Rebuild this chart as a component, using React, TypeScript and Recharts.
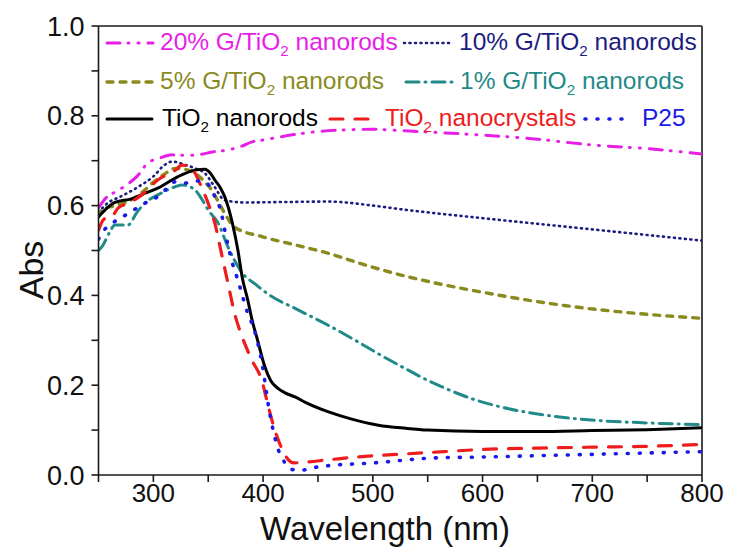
import React from 'react';
import { LineChart, Line, XAxis, YAxis, ReferenceLine } from 'recharts';

// [wavelength nm, absorbance]
const g20 = [[250,0.595],[258,0.62],[265,0.63],[275,0.645],[285,0.665],[295,0.695],[305,0.705],[317,0.713],[330,0.712],[340,0.713],[355,0.72],[368,0.724],[380,0.732],[390,0.742],[400,0.746],[425,0.757],[450,0.765],[480,0.769],[500,0.77],[525,0.767],[550,0.764],[600,0.757],[650,0.748],[676,0.741],[700,0.735],[750,0.727],[800,0.715]];
const g10 = [[250,0.585],[258,0.605],[270,0.62],[285,0.64],[300,0.665],[310,0.69],[317,0.698],[330,0.69],[338,0.683],[347,0.672],[355,0.645],[365,0.612],[383,0.607],[420,0.608],[459,0.609],[500,0.6],[525,0.592],[600,0.572],[676,0.553],[740,0.537],[800,0.522]];
const g5 = [[250,0.575],[253,0.59],[265,0.6],[277,0.609],[290,0.63],[299,0.65],[310,0.67],[320,0.683],[330,0.68],[338,0.672],[346,0.655],[353,0.635],[360,0.605],[365,0.583],[374,0.552],[399,0.531],[430,0.512],[459,0.494],[490,0.47],[520,0.449],[560,0.426],[600,0.407],[640,0.39],[676,0.377],[740,0.36],[800,0.349]];
const g1 = [[250,0.5],[253,0.508],[260,0.54],[265,0.557],[277,0.557],[285,0.585],[292,0.605],[305,0.625],[320,0.642],[326,0.646],[332,0.643],[338,0.635],[344,0.615],[350,0.59],[359,0.561],[368,0.508],[381,0.45],[393,0.425],[405,0.402],[430,0.37],[459,0.334],[484,0.3],[505,0.27],[525,0.243],[555,0.205],[570,0.189],[590,0.17],[616,0.152],[661,0.132],[707,0.121],[750,0.116],[800,0.112]];
const rods = [[250,0.575],[258,0.595],[265,0.607],[280,0.615],[292,0.627],[305,0.64],[322,0.664],[338,0.679],[347,0.681],[352,0.672],[356,0.657],[361,0.64],[365,0.62],[372,0.561],[377,0.501],[381,0.44],[386,0.39],[390,0.345],[395,0.3],[401.6,0.241],[407,0.21],[413.6,0.193],[420,0.183],[429,0.174],[440,0.16],[459,0.141],[480,0.125],[505,0.111],[530,0.104],[550,0.1],[600,0.097],[650,0.097],[700,0.099],[750,0.101],[800,0.105]];
const crystals = [[250,0.545],[255,0.57],[262,0.575],[268,0.595],[277,0.605],[290,0.625],[304,0.657],[320,0.679],[326,0.69],[332,0.688],[338,0.672],[344,0.64],[350,0.605],[356,0.561],[362,0.494],[368,0.427],[374,0.36],[381,0.307],[390,0.255],[398.6,0.212],[405,0.15],[410.7,0.1],[416,0.065],[421.7,0.038],[428,0.027],[435,0.028],[460,0.034],[490,0.041],[530,0.047],[565,0.052],[600,0.057],[650,0.06],[700,0.062],[750,0.064],[800,0.068]];
const p25 = [[250,0.525],[254,0.542],[262,0.56],[272,0.575],[282,0.59],[292,0.605],[306,0.623],[320,0.653],[329,0.65],[338,0.655],[347,0.653],[356,0.62],[362,0.583],[365,0.546],[372,0.472],[377,0.434],[386,0.36],[392,0.323],[399,0.249],[406,0.138],[413,0.063],[420,0.027],[427,0.012],[435,0.011],[450,0.018],[465,0.022],[495,0.026],[556,0.038],[600,0.04],[650,0.043],[700,0.046],[750,0.049],[800,0.052]];

const xTicks = [250, 300, 350, 400, 450, 500, 550, 600, 650, 700, 750, 800];
const yTicks = [0, 0.1, 0.2, 0.3, 0.4, 0.5, 0.6, 0.7, 0.8, 0.9, 1.0];

const FONT = '"Liberation Sans", Arial, sans-serif';

const series = [
  { key: 'g20', data: g20, color: '#e61ee6', dash: '13 8 1 9 1 9', width: 3 },
  { key: 'g10', data: g10, color: '#1c1c80', dash: '1 4.5', width: 2.6 },
  { key: 'g5', data: g5, color: '#8a8a1e', dash: '6 7', width: 3.4 },
  { key: 'g1', data: g1, color: '#1f8a88', dash: '13 6 1 6', width: 3 },
  { key: 'rods', data: rods, color: '#000000', dash: undefined, width: 3 },
  { key: 'crystals', data: crystals, color: '#ee1c1c', dash: '13 12', width: 3.2 },
  { key: 'p25', data: p25, color: '#1a1ae6', dash: '1 11', width: 3.6 },
];

const legendRows = [
  { key: 'g20', row: 0, lineX: 105, lineW: 48, textX: 160, pre: '20% G/TiO', post: ' nanorods', sub: true },
  { key: 'g10', row: 0, lineX: 402, lineW: 48, textX: 459, pre: '10% G/TiO', post: ' nanorods', sub: true },
  { key: 'g5', row: 1, lineX: 105, lineW: 48, textX: 160, pre: '5% G/TiO', post: ' nanorods', sub: true },
  { key: 'g1', row: 1, lineX: 404, lineW: 48, textX: 460, pre: '1% G/TiO', post: ' nanorods', sub: true },
  { key: 'rods', row: 2, lineX: 105, lineW: 47, textX: 162, pre: 'TiO', post: ' nanorods', sub: true },
  { key: 'crystals', row: 2, lineX: 328, lineW: 48, textX: 385, pre: 'TiO', post: ' nanocrystals', sub: true },
  { key: 'p25', row: 2, lineX: 583, lineW: 40, textX: 642, pre: 'P25', post: '', sub: false },
];
const rowY = [42.5, 81.5, 119];

export default function App() {
  const dataFor = (arr: number[][]) => arr.map(([x, y]) => ({ x, y }));
  return (
    <div style={{ position: 'absolute', left: 0, top: 0, width: 731, height: 547, background: '#fff', fontFamily: FONT }}>
      <LineChart width={731} height={547} margin={{ top: 26, right: 29, bottom: 0, left: 0 }}>
        <XAxis
          type="number"
          dataKey="x"
          domain={[250, 800]}
          ticks={xTicks}
          interval={0}
          allowDataOverflow
          tickFormatter={(v: number) => (v % 100 === 0 ? String(v) : '')}
          tickSize={7}
          tickMargin={2}
          height={72}
          stroke="#1a1a1a"
          strokeWidth={1.6}
          tick={{ fill: '#111', fontSize: 26, fontFamily: FONT }}
          label={() => (
            <text x={385} y={540} textAnchor="middle" fill="#111" fontSize={33} fontFamily={FONT}>
              Wavelength (nm)
            </text>
          )}
        />
        <YAxis
          type="number"
          domain={[0, 1]}
          ticks={yTicks}
          interval={0}
          allowDataOverflow
          tickFormatter={(v: number) => (Math.round(v * 10) % 2 === 0 ? v.toFixed(1) : '')}
          tickSize={7}
          tickMargin={7}
          width={98.5}
          stroke="#1a1a1a"
          strokeWidth={1.6}
          tick={{ fill: '#111', fontSize: 27, fontFamily: FONT }}
          label={() => (
            <text x={43} y={270} transform="rotate(-90 43 270)" textAnchor="middle" fill="#111" fontSize={34} fontFamily={FONT}>
              Abs
            </text>
          )}
        />
        <ReferenceLine x={800} stroke="#1a1a1a" strokeWidth={1.6} />
        <ReferenceLine y={1} stroke="#1a1a1a" strokeWidth={1.6} />
        {series.map((s) => (
          <Line
            key={s.key}
            data={dataFor(s.data)}
            dataKey="y"
            type="monotone"
            stroke={s.color}
            strokeWidth={s.width}
            strokeDasharray={s.dash}
            strokeLinecap="round"
            dot={false}
            activeDot={false}
            isAnimationActive={false}
          />
        ))}
      </LineChart>

      {/* Legend */}
      {legendRows.map((l) => {
        const s = series.find((x) => x.key === l.key)!;
        const y = rowY[l.row];
        return (
          <React.Fragment key={l.key}>
            <svg style={{ position: 'absolute', left: l.lineX, top: y - 5 }} width={l.lineW + 4} height={10}>
              <line x1={2} y1={5} x2={l.lineW} y2={5} stroke={s.color} strokeWidth={s.width} strokeDasharray={s.dash} strokeLinecap="round" />
            </svg>
            <div
              style={{
                position: 'absolute',
                left: l.textX,
                top: y - 1,
                transform: 'translateY(-50%)',
                color: s.color,
                fontSize: 24.5,
                lineHeight: 1,
                whiteSpace: 'nowrap',
              }}
            >
              {l.pre}
              {l.sub && <sub style={{ fontSize: '0.62em', verticalAlign: '-0.4em', lineHeight: 0 }}>2</sub>}
              {l.post}
            </div>
          </React.Fragment>
        );
      })}
    </div>
  );
}
